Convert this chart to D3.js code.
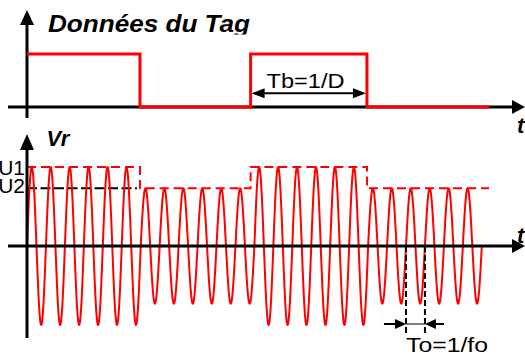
<!DOCTYPE html>
<html>
<head>
<meta charset="utf-8">
<script src="https://cdn.jsdelivr.net/npm/d3@7"></script>
<style>
  html, body { margin: 0; padding: 0; background: #fff; }
  svg { display: block; font-family: "Liberation Sans", Arial, sans-serif; }
</style>
</head>
<body>
<div id="chart"></div>
<script>
// Tag data bits and their edges (time in carrier periods)
var bitValues = [1, 0, 1, 0];
var bitEdges = [0, 5.96, 11.8, 17.94, 24.38];

// amplitude level of every carrier cycle (index into levelNames)
var cycleLevels = [0, 0, 0, 0, 0, 0, 1, 1, 1, 1, 1, 1, 0, 0, 0, 0, 0, 0, 1, 1, 1, 1, 1, 1];
var levelNames = ["U1", "U2"];
var levelValues = [1, 0.73];

// To = 1/fo marker (one carrier period)
var periodMarks = [20, 21];

var labels = {
  title: "Données du Tag",
  vr: "Vr",
  t: "t",
  tb: "Tb=1/D",
  to: "To=1/fo"
};

var width = 525, height = 354;
var red = "#ff0000";

var svg = d3.select("#chart")
  .append("svg")
  .attr("width", width)
  .attr("height", height);

// scales
var x = d3.scaleLinear().domain([0, 26]).range([27, 27 + 18.95 * 26]);
var yTop = d3.scaleLinear().domain([0, 1]).range([107, 54]);
var yBot = d3.scaleLinear().domain([-1, 1]).range([325, 167]);

// filled arrow head with tip at (x2,y2) pointing from (x1,y1)
function arrowHead(g, x1, y1, x2, y2, len, half) {
  var a = Math.atan2(y2 - y1, x2 - x1);
  var bx = x2 - len * Math.cos(a), by = y2 - len * Math.sin(a);
  var px = -Math.sin(a) * half, py = Math.cos(a) * half;
  g.append("path")
    .attr("d", "M" + x2 + "," + y2 + "L" + (bx + px) + "," + (by + py) + "L" + (bx - px) + "," + (by - py) + "Z")
    .attr("fill", "#000");
}

function axisLine(g, x1, y1, x2, y2) {
  g.append("line")
    .attr("x1", x1).attr("y1", y1).attr("x2", x2).attr("y2", y2)
    .attr("stroke", "#000").attr("stroke-width", 3);
}

// ---------- top plot : tag data ----------
var gTop = svg.append("g");

svg.append("defs").append("clipPath").attr("id", "titleClip")
  .append("rect").attr("x", 0).attr("y", 0).attr("width", width).attr("height", 34.5);

gTop.append("text")
  .attr("x", 48).attr("y", 31.7)
  .attr("clip-path", "url(#titleClip)")
  .attr("font-size", 23).attr("font-weight", "bold").attr("font-style", "italic")
  .attr("textLength", 202).attr("lengthAdjust", "spacingAndGlyphs")
  .text(labels.title);

gTop.append("text")
  .attr("x", 517).attr("y", 133)
  .attr("font-size", 22).attr("font-weight", "bold").attr("font-style", "italic")
  .text(labels.t);

axisLine(gTop, 8, yTop(0), 513, yTop(0));
arrowHead(gTop, 500, yTop(0), 525, yTop(0), 13, 7);
axisLine(gTop, x(0), 118, x(0), 24);
arrowHead(gTop, x(0), 40, x(0), 10, 15, 7);

var stepPts = bitValues.map(function (b, i) { return [bitEdges[i], b]; });
stepPts.push([bitEdges[bitEdges.length - 1], bitValues[bitValues.length - 1]]);

gTop.append("path")
  .datum(stepPts)
  .attr("d", d3.line()
    .x(function (d) { return x(d[0]); })
    .y(function (d) { return yTop(d[1]); })
    .curve(d3.curveStepAfter))
  .attr("fill", "none")
  .attr("stroke", red)
  .attr("stroke-width", 3);

// Tb arrow
var tbY = 93.3;
gTop.append("line")
  .attr("x1", x(bitEdges[2]) + 4).attr("x2", x(bitEdges[3]) - 4)
  .attr("y1", tbY).attr("y2", tbY)
  .attr("stroke", "#000").attr("stroke-width", 2);
arrowHead(gTop, x(bitEdges[3]), tbY, x(bitEdges[2]) + 1, tbY, 13, 5);
arrowHead(gTop, x(bitEdges[2]), tbY, x(bitEdges[3]) - 1, tbY, 13, 5);

gTop.append("text")
  .attr("x", 266.5).attr("y", 88.3)
  .attr("font-size", 21)
  .attr("textLength", 78).attr("lengthAdjust", "spacingAndGlyphs")
  .text(labels.tb);

// ---------- bottom plot : Vr ----------
var gBot = svg.append("g");

gBot.append("text")
  .attr("x", 46.5).attr("y", 146)
  .attr("font-size", 22).attr("font-weight", "bold").attr("font-style", "italic")
  .text(labels.vr);

gBot.append("text")
  .attr("x", 517).attr("y", 243)
  .attr("font-size", 22).attr("font-weight", "bold").attr("font-style", "italic")
  .text(labels.t);

levelNames.forEach(function (name, i) {
  gBot.append("text")
    .attr("x", 25).attr("y", [175, 193][i])
    .attr("text-anchor", "end")
    .attr("font-size", 21)
    .text(name);
});

// black dashed U2 reference
gBot.append("line")
  .attr("x1", x(0)).attr("x2", x(bitEdges[1]) - 3)
  .attr("y1", yBot(levelValues[1])).attr("y2", yBot(levelValues[1]))
  .attr("stroke", "#000").attr("stroke-width", 2)
  .attr("stroke-dasharray", "10,3.5");

// red dashed envelope
var envPts = bitValues.map(function (b, i) { return [bitEdges[i], levelValues[b ? 0 : 1]]; });
envPts.push([bitEdges[bitEdges.length - 1], levelValues[bitValues[bitValues.length - 1] ? 0 : 1]]);
gBot.append("path")
  .datum(envPts)
  .attr("d", d3.line()
    .x(function (d) { return x(d[0]); })
    .y(function (d) { return yBot(d[1]); })
    .curve(d3.curveStepAfter))
  .attr("fill", "none")
  .attr("stroke", red)
  .attr("stroke-width", 2)
  .attr("stroke-dasharray", "9,5");

// carrier: one sine cycle per entry of cycleLevels
var carrier = [];
cycleLevels.forEach(function (lv, k) {
  var amp = levelValues[lv];
  for (var i = 0; i <= 48; i++) {
    if (k > 0 && i === 0) continue;
    var f = i / 48;
    carrier.push([k + f, amp * Math.sin(2 * Math.PI * f)]);
  }
});

gBot.append("path")
  .datum(carrier)
  .attr("d", d3.line()
    .x(function (d) { return x(d[0]); })
    .y(function (d) { return yBot(d[1]); }))
  .attr("fill", "none")
  .attr("stroke", red)
  .attr("stroke-width", 2)
  .attr("stroke-linejoin", "round");

// axes
axisLine(gBot, 8, yBot(0), 513, yBot(0));
arrowHead(gBot, 500, yBot(0), 525, yBot(0), 13, 7);
axisLine(gBot, x(0), 338, x(0), 148);
arrowHead(gBot, x(0), 160, x(0), 134, 16, 7);

// To = 1/fo marker
periodMarks.forEach(function (p) {
  gBot.append("line")
    .attr("x1", x(p)).attr("x2", x(p))
    .attr("y1", yBot(0)).attr("y2", 333)
    .attr("stroke", "#000").attr("stroke-width", 2)
    .attr("stroke-dasharray", "6,3");
});
var toY = 324;
gBot.append("line")
  .attr("x1", x(periodMarks[0])).attr("x2", x(periodMarks[1]))
  .attr("y1", toY).attr("y2", toY)
  .attr("stroke", "#000").attr("stroke-width", 1);
gBot.append("line")
  .attr("x1", 384).attr("x2", x(periodMarks[0]) - 6)
  .attr("y1", toY).attr("y2", toY)
  .attr("stroke", "#000").attr("stroke-width", 2);
arrowHead(gBot, 384, toY, x(periodMarks[0]), toY, 11, 5);
gBot.append("line")
  .attr("x1", 444).attr("x2", x(periodMarks[1]) + 6)
  .attr("y1", toY).attr("y2", toY)
  .attr("stroke", "#000").attr("stroke-width", 2);
arrowHead(gBot, 444, toY, x(periodMarks[1]), toY, 11, 5);

gBot.append("text")
  .attr("x", 406).attr("y", 352)
  .attr("font-size", 21)
  .attr("textLength", 82).attr("lengthAdjust", "spacingAndGlyphs")
  .text(labels.to);
</script>
</body>
</html>
